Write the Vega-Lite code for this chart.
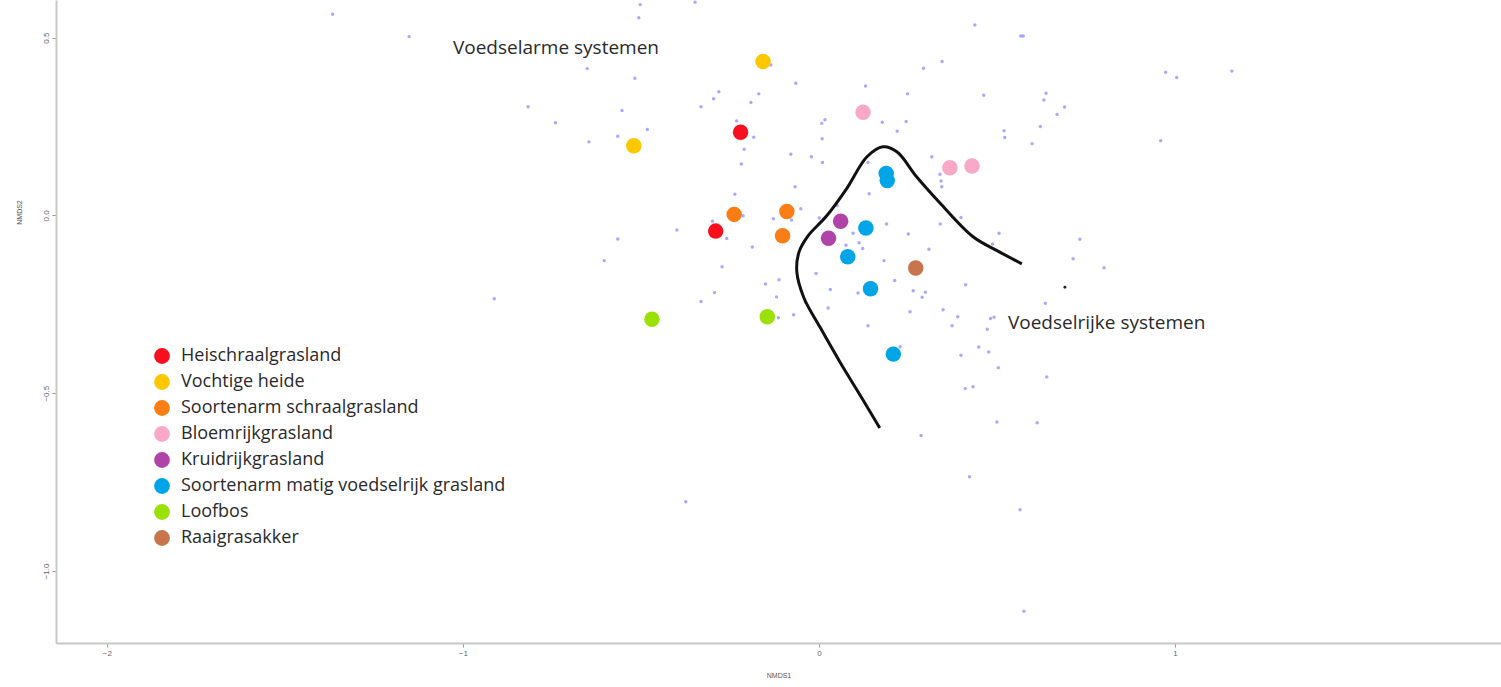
{
  "$schema": "https://vega.github.io/schema/vega-lite/v6.json",
  "width": 1445,
  "height": 643,
  "autosize": {"type": "none"},
  "padding": {"left": 56, "top": 0, "right": 0, "bottom": 44},
  "background": "white",
  "config": {
    "view": {"stroke": null},
    "axis": {"grid": false, "domainColor": "#c8c8c8", "domainWidth": 2, "tickColor": "#999", "tickSize": 4, "labelColor": "#666", "labelFontSize": 8, "labelFont": "Liberation Sans", "titleFont": "Liberation Sans", "titleFontSize": 7, "titleFontWeight": "normal", "titleColor": "#555"}
  },
  "datasets": {
    "big": [
      {"x": -0.157, "y": 0.433, "type": "Vochtige heide"},
      {"x": -0.520, "y": 0.196, "type": "Vochtige heide"},
      {"x": -0.220, "y": 0.234, "type": "Heischraalgrasland"},
      {"x": -0.290, "y": -0.044, "type": "Heischraalgrasland"},
      {"x": -0.238, "y": 0.003, "type": "Soortenarm schraalgrasland"},
      {"x": -0.090, "y": 0.011, "type": "Soortenarm schraalgrasland"},
      {"x": -0.102, "y": -0.057, "type": "Soortenarm schraalgrasland"},
      {"x": 0.124, "y": 0.290, "type": "Bloemrijkgrasland"},
      {"x": 0.368, "y": 0.134, "type": "Bloemrijkgrasland"},
      {"x": 0.430, "y": 0.139, "type": "Bloemrijkgrasland"},
      {"x": 0.061, "y": -0.016, "type": "Kruidrijkgrasland"},
      {"x": 0.027, "y": -0.064, "type": "Kruidrijkgrasland"},
      {"x": 0.189, "y": 0.118, "type": "Soortenarm matig voedselrijk grasland"},
      {"x": 0.192, "y": 0.098, "type": "Soortenarm matig voedselrijk grasland"},
      {"x": 0.132, "y": -0.035, "type": "Soortenarm matig voedselrijk grasland"},
      {"x": 0.081, "y": -0.116, "type": "Soortenarm matig voedselrijk grasland"},
      {"x": 0.145, "y": -0.206, "type": "Soortenarm matig voedselrijk grasland"},
      {"x": 0.209, "y": -0.390, "type": "Soortenarm matig voedselrijk grasland"},
      {"x": 0.272, "y": -0.148, "type": "Raaigrasakker"},
      {"x": -0.469, "y": -0.292, "type": "Loofbos"},
      {"x": -0.145, "y": -0.285, "type": "Loofbos"}
    ],
    "small": [
      {"x": -1.366, "y": 0.566}, {"x": -1.151, "y": 0.503}, {"x": -0.502, "y": 0.593}, {"x": -0.506, "y": 0.556},
      {"x": -0.348, "y": 0.600}, {"x": -0.651, "y": 0.413}, {"x": -0.517, "y": 0.386}, {"x": -0.817, "y": 0.306},
      {"x": -0.740, "y": 0.261}, {"x": -0.553, "y": 0.295}, {"x": -0.646, "y": 0.207}, {"x": -0.565, "y": 0.223},
      {"x": -0.482, "y": 0.242}, {"x": -0.135, "y": 0.423}, {"x": -0.065, "y": 0.372}, {"x": -0.281, "y": 0.348},
      {"x": -0.296, "y": 0.328}, {"x": -0.169, "y": 0.342}, {"x": -0.191, "y": 0.318}, {"x": -0.331, "y": 0.306},
      {"x": -0.231, "y": 0.266}, {"x": -0.183, "y": 0.220}, {"x": -0.210, "y": 0.186}, {"x": -0.218, "y": 0.145},
      {"x": -0.079, "y": 0.172}, {"x": -0.067, "y": 0.081}, {"x": -0.236, "y": 0.060}, {"x": -0.213, "y": -0.001},
      {"x": -0.128, "y": -0.009}, {"x": -0.299, "y": -0.016}, {"x": -0.399, "y": -0.041}, {"x": -0.259, "y": -0.065},
      {"x": -0.565, "y": -0.066}, {"x": -0.187, "y": -0.089}, {"x": -0.021, "y": 0.165}, {"x": 0.010, "y": 0.149},
      {"x": 0.009, "y": 0.216}, {"x": 0.008, "y": 0.259}, {"x": 0.017, "y": 0.269}, {"x": 0.131, "y": 0.364},
      {"x": 0.249, "y": 0.342}, {"x": 0.294, "y": 0.414}, {"x": 0.346, "y": 0.433}, {"x": 0.463, "y": 0.338},
      {"x": 0.178, "y": 0.262}, {"x": 0.245, "y": 0.264}, {"x": 0.220, "y": 0.237}, {"x": 0.520, "y": 0.238},
      {"x": 0.522, "y": 0.219}, {"x": 0.317, "y": 0.165}, {"x": 0.340, "y": 0.116}, {"x": 0.343, "y": 0.097},
      {"x": 0.345, "y": 0.081}, {"x": 0.138, "y": 0.149}, {"x": 0.141, "y": 0.061}, {"x": 0.051, "y": 0.028},
      {"x": -0.051, "y": 0.019}, {"x": -0.077, "y": -0.013}, {"x": 0.001, "y": -0.007}, {"x": 0.096, "y": -0.050},
      {"x": 0.076, "y": -0.084}, {"x": 0.113, "y": -0.077}, {"x": 0.123, "y": -0.093}, {"x": 0.190, "y": -0.024},
      {"x": 0.251, "y": -0.052}, {"x": 0.309, "y": -0.095}, {"x": 0.341, "y": -0.024}, {"x": 0.399, "y": -0.006},
      {"x": 0.506, "y": -0.050}, {"x": 0.488, "y": -0.080}, {"x": 0.183, "y": -0.127}, {"x": -0.008, "y": -0.163},
      {"x": 0.213, "y": -0.183}, {"x": 0.032, "y": -0.208}, {"x": 0.110, "y": -0.218}, {"x": 0.265, "y": -0.212},
      {"x": 0.299, "y": -0.216}, {"x": 0.290, "y": -0.230}, {"x": 0.412, "y": -0.195}, {"x": -0.150, "y": -0.193},
      {"x": -0.112, "y": -0.181}, {"x": -0.119, "y": -0.229}, {"x": -0.293, "y": -0.217}, {"x": -0.331, "y": -0.242},
      {"x": -0.038, "y": -0.244}, {"x": 0.026, "y": -0.260}, {"x": -0.114, "y": -0.288}, {"x": -0.071, "y": -0.279},
      {"x": 0.256, "y": -0.271}, {"x": 0.349, "y": -0.265}, {"x": 0.390, "y": -0.285}, {"x": 0.374, "y": -0.310},
      {"x": 0.473, "y": -0.320}, {"x": 0.482, "y": -0.290}, {"x": 0.492, "y": -0.286}, {"x": 0.138, "y": -0.310},
      {"x": 0.228, "y": -0.369}, {"x": 0.449, "y": -0.370}, {"x": 0.477, "y": -0.384}, {"x": 0.399, "y": -0.393},
      {"x": 0.438, "y": 0.536}, {"x": 0.567, "y": 0.505}, {"x": 0.574, "y": 0.505}, {"x": 0.638, "y": 0.344},
      {"x": 0.632, "y": 0.325}, {"x": 0.690, "y": 0.305}, {"x": 0.669, "y": 0.284}, {"x": 0.622, "y": 0.250},
      {"x": 0.599, "y": 0.202}, {"x": 0.974, "y": 0.403}, {"x": 1.005, "y": 0.388}, {"x": 1.160, "y": 0.406},
      {"x": 0.960, "y": 0.210}, {"x": 0.733, "y": -0.067}, {"x": 0.714, "y": -0.122}, {"x": 0.801, "y": -0.147},
      {"x": 0.636, "y": -0.247}, {"x": 0.504, "y": -0.428}, {"x": 0.640, "y": -0.454}, {"x": 0.411, "y": -0.487},
      {"x": 0.433, "y": -0.482}, {"x": 0.500, "y": -0.581}, {"x": 0.613, "y": -0.583}, {"x": 0.287, "y": -0.619},
      {"x": 0.423, "y": -0.735}, {"x": 0.565, "y": -0.828}, {"x": 0.576, "y": -1.113}, {"x": -0.374, "y": -0.805},
      {"x": -0.603, "y": -0.127}, {"x": -0.912, "y": -0.234}, {"x": -0.272, "y": -0.144}
    ],
    "curve": [
      {"o": 1, "x": 0.570, "y": -0.136}, {"o": 2, "x": 0.508, "y": -0.103}, {"o": 3, "x": 0.433, "y": -0.060},
      {"o": 4, "x": 0.340, "y": 0.035}, {"o": 5, "x": 0.275, "y": 0.108}, {"o": 6, "x": 0.219, "y": 0.179},
      {"o": 7, "x": 0.180, "y": 0.193}, {"o": 8, "x": 0.135, "y": 0.165}, {"o": 9, "x": 0.079, "y": 0.077},
      {"o": 10, "x": 0.022, "y": -0.001}, {"o": 11, "x": -0.031, "y": -0.058}, {"o": 12, "x": -0.056, "y": -0.103},
      {"o": 13, "x": -0.062, "y": -0.159}, {"o": 14, "x": -0.042, "y": -0.232}, {"o": 15, "x": 0.003, "y": -0.314},
      {"o": 16, "x": 0.059, "y": -0.412}, {"o": 17, "x": 0.124, "y": -0.519}, {"o": 18, "x": 0.171, "y": -0.598}
    ],
    "dot": [{"x": 0.691, "y": -0.202}],
    "notes": [
      {"x": -1.028, "y": 0.471, "label": "Voedselarme systemen"},
      {"x": 0.531, "y": -0.302, "label": "Voedselrijke systemen"}
    ]
  },
  "encoding": {
    "x": {"field": "x", "type": "quantitative", "scale": {"domain": [-2.143, 1.916], "nice": false, "zero": false},
      "axis": {"values": [-2, -1, 0, 1], "format": "d", "title": "NMDS1", "titlePadding": 14}},
    "y": {"field": "y", "type": "quantitative", "scale": {"domain": [-1.2025, 0.606], "nice": false, "zero": false},
      "axis": {"values": [0.5, 0, -0.5, -1], "format": ".1f", "labelAngle": -90, "labelAlign": "center", "labelBaseline": "bottom", "title": "NMDS2", "titleX": -34, "titleY": 212}}
  },
  "layer": [
    {
      "data": {"name": "small"},
      "mark": {"type": "point", "filled": true, "shape": "circle", "size": 12, "color": "#7070ff", "opacity": 0.6}
    },
    {
      "data": {"name": "curve"},
      "mark": {"type": "line", "interpolate": "catmull-rom", "color": "#111", "strokeWidth": 3},
      "encoding": {"order": {"field": "o", "type": "quantitative"}}
    },
    {
      "data": {"name": "dot"},
      "mark": {"type": "point", "filled": true, "shape": "circle", "size": 8, "color": "#222", "opacity": 1}
    },
    {
      "data": {"name": "big"},
      "mark": {"type": "point", "filled": true, "shape": "circle", "size": 240, "opacity": 1},
      "encoding": {
        "color": {"field": "type", "type": "nominal",
          "scale": {
            "domain": ["Heischraalgrasland", "Vochtige heide", "Soortenarm schraalgrasland", "Bloemrijkgrasland", "Kruidrijkgrasland", "Soortenarm matig voedselrijk grasland", "Loofbos", "Raaigrasakker"],
            "range": ["#f80f1e", "#ffc700", "#fb7d16", "#f9a9c7", "#b043a8", "#00a5e8", "#9be108", "#c8754c"]
          },
          "legend": {"orient": "none", "legendX": 97, "legendY": 347, "title": null, "direction": "vertical", "symbolType": "circle", "symbolSize": 250, "symbolStrokeWidth": 0, "symbolOpacity": 1, "labelFont": "Open Sans", "labelFontSize": 18, "labelColor": "#2a2a2a", "labelOffset": 10, "rowPadding": 8, "padding": 0, "labelLimit": 500}
        }
      }
    },
    {
      "data": {"name": "notes"},
      "mark": {"type": "text", "align": "left", "baseline": "middle", "font": "Open Sans", "fontSize": 19, "color": "#2a2a2a"},
      "encoding": {"text": {"field": "label", "type": "nominal"}}
    }
  ]
}
